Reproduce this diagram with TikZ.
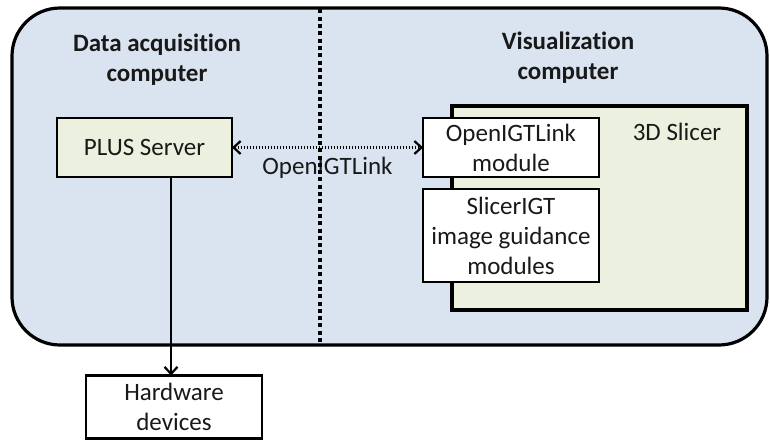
\documentclass[tikz,border=0pt]{standalone}
\usepackage{fontspec}
\setmainfont[Ligatures=NoCommon]{Carlito}
\usetikzlibrary{arrows.meta}
\definecolor{outerblue}{HTML}{DAE3F0}
\definecolor{boxgreen}{HTML}{EBF1DE}
\tikzset{
  txt/.style={font=\fontsize{25}{30}\selectfont, align=center, text=black!90},
  ttl/.style={font=\fontsize{25}{30}\selectfont\bfseries, align=center, text=black!90},
  box/.style={draw=black, line width=2.4pt, inner sep=0pt, outer sep=0pt},
  barb/.tip={Straight Barb[length=7pt,width=13pt,line width=2.2pt]}
}
\begin{document}
\begin{tikzpicture}[x=1pt,y=-1pt]
\useasboundingbox (0,0) rectangle (770,441);
% outer computer frame
\draw[fill=outerblue, draw=black, line width=3.2pt, rounded corners=48pt] (12,8) rectangle (767,345);
\coordinate (divtop) at (320,9.5);
\coordinate (divbot) at (320,343.5);
% titles
\node[ttl] (t1) at (157,60) {Data acquisition\\computer};
\node[ttl] (t2) at (568,58) {Visualization\\computer};
% 3D Slicer box
\node[box, fill=boxgreen, line width=3.2pt, minimum width=295pt, minimum height=204pt] (slicer) at (599.5,208) {};
\node[txt] (slt) at (677,132) {3D Slicer};
% module boxes
\node[box, fill=white, minimum width=176pt, minimum height=59pt, txt] (oigt) at (511,147.5) {OpenIGTLink\\module};
\node[box, fill=white, minimum width=176pt, minimum height=93pt, txt] (sigt) at (511,235.5) {SlicerIGT\\image guidance\\modules};
% PLUS server
\node[box, fill=boxgreen, minimum width=175pt, minimum height=59pt, txt] (plus) at (144.5,147.5) {PLUS Server};
% hardware
\node[box, fill=white, minimum width=176pt, minimum height=63pt, txt] (hw) at (174,407) {Hardware\\devices};
% connectors
\draw[black, line width=2.2pt, dash pattern=on 1.7pt off 1.3pt, {barb}-{barb}] (plus.east) -- (oigt.west) node[midway, below=5pt, txt] (lbl) {OpenIGTLink};
\draw[black, line width=2.4pt, -{barb}] (plus.south -| 171,0) -- (hw.north -| 171,0);
% divider
\draw[black, line width=4.4pt, dash pattern=on 4pt off 3.3pt] (divtop) -- (divbot);
\end{tikzpicture}
\end{document}
